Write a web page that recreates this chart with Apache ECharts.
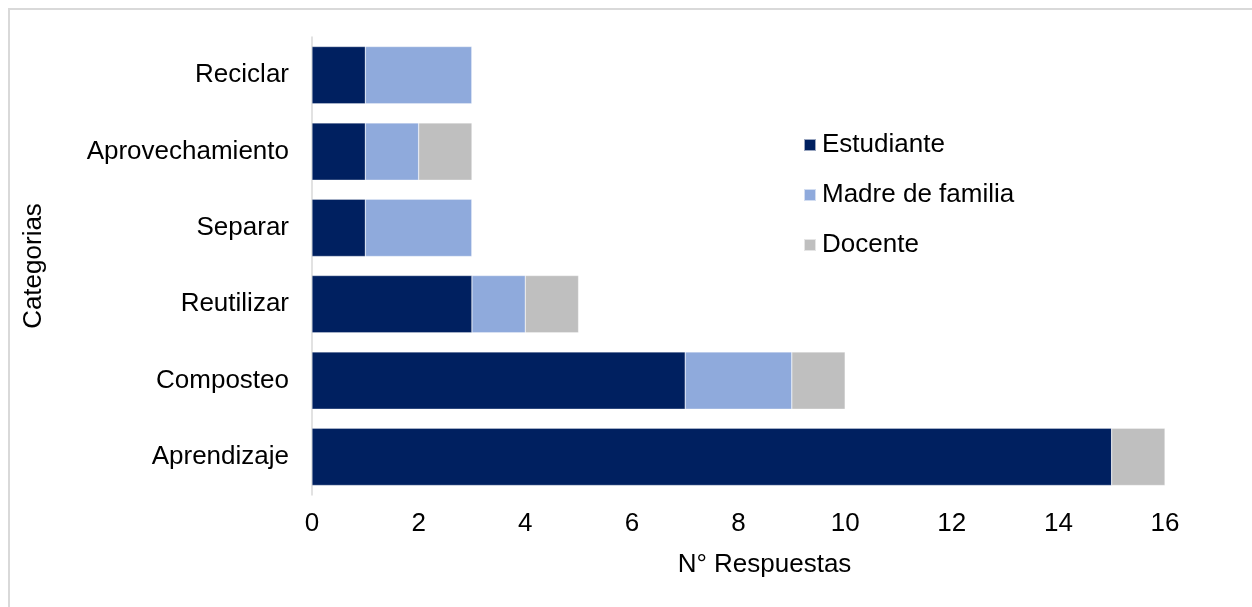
<!DOCTYPE html>
<html>
<head>
<meta charset="utf-8">
<script src="https://cdn.jsdelivr.net/npm/echarts@6/dist/echarts.min.js"></script>
<style>
html,body{margin:0;padding:0;background:#fff;}
#frame{position:absolute;left:8px;top:8px;width:1260px;height:620px;border-left:2px solid #d9d9d9;border-top:2px solid #d9d9d9;box-sizing:border-box;}
#chart{position:absolute;left:0;top:0;width:1252px;height:607px;}
</style>
</head>
<body>
<div id="frame"></div>
<div id="chart"></div>
<script>
const categories = ['Aprendizaje', 'Composteo', 'Reutilizar', 'Separar', 'Aprovechamiento', 'Reciclar'];
const estudiante = [15, 7, 3, 1, 1, 1];
const madre = [0, 2, 1, 2, 1, 2];
const docente = [1, 1, 1, 0, 1, 0];
const xTicks = { min: 0, max: 16, interval: 2 };

const font = 'Liberation Sans, Arial, sans-serif';
const fs = 26;
const chart = echarts.init(document.getElementById('chart'), null, { renderer: 'canvas' });
function s(name, data, color) {
  return {
    name: name, type: 'bar', stack: 'total', data: data, barWidth: '75%',
    itemStyle: { color: color, borderColor: 'rgba(255,255,255,0.6)', borderWidth: 0.5 },
    emphasis: { disabled: true }
  };
}
chart.setOption({
  animation: false,
  grid: { left: 312, right: 87, top: 37, bottom: 112 },
  legend: {
    orient: 'vertical', left: 803, top: 130, padding: 0, itemWidth: 12, itemHeight: 12, itemGap: 20,
    icon: 'rect',
    textStyle: { fontFamily: font, fontSize: fs, color: '#000', lineHeight: 30, padding: [0, 0, 0, 1] },
    data: ['Estudiante', 'Madre de familia', 'Docente']
  },
  xAxis: {
    type: 'value', min: xTicks.min, max: xTicks.max, interval: xTicks.interval,
    name: 'N° Respuestas', nameLocation: 'middle', nameGap: 57,
    nameTextStyle: { fontFamily: font, fontSize: fs, color: '#000', padding: [0, 0, 0, 52] },
    axisLine: { show: false }, axisTick: { show: false }, splitLine: { show: false },
    axisLabel: { fontFamily: font, fontSize: fs, color: '#000', margin: 16 }
  },
  yAxis: {
    type: 'category', data: categories,
    name: 'Categorias', nameLocation: 'middle', nameGap: 265,
    nameTextStyle: { fontFamily: font, fontSize: fs, color: '#000' },
    axisLine: { show: true, lineStyle: { color: '#d9d9d9', width: 1.5 } },
    axisTick: { show: false },
    axisLabel: { fontFamily: font, fontSize: fs, color: '#000', margin: 23 }
  },
  series: [
    s('Estudiante', estudiante, '#002060'),
    s('Madre de familia', madre, '#8faadc'),
    s('Docente', docente, '#bfbfbf')
  ]
});
</script>
</body>
</html>
